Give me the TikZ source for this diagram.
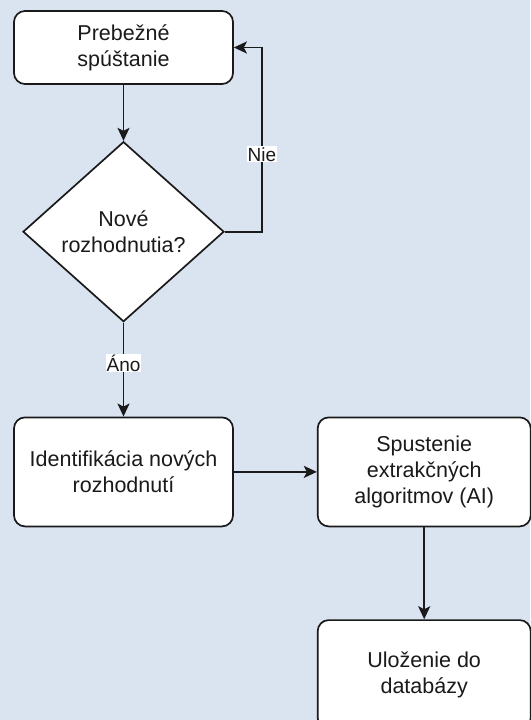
\documentclass[tikz,border=0pt]{standalone}
\usepackage{fontspec}
\setmainfont{Liberation Sans}
\usepackage{tikz}
\usetikzlibrary{positioning, arrows.meta, shapes.geometric}
\definecolor{pozadie}{RGB}{218, 227, 240}
\definecolor{ciara}{RGB}{26, 26, 26}
\tikzset{
    krok/.style={draw=ciara, rectangle, rounded corners=11pt, fill=white, line width=1.7pt, text=ciara, align=center, minimum width=219pt, minimum height=109pt, inner sep=2pt, font=\fontsize{21.5}{26}\selectfont},
    rozh/.style={draw=ciara, diamond, fill=white, line width=1.7pt, text=ciara, align=center, minimum width=201pt, minimum height=180pt, aspect=1.12, inner sep=0pt, font=\fontsize{21.5}{26}\selectfont},
    conn/.style={-{Stealth[length=13pt, width=12pt, inset=3pt]}, ciara, line width=1.7pt},
    lbl/.style={fill=white, inner sep=1pt, text=ciara, font=\fontsize{19}{22}\selectfont},
}

\begin{document}
\begin{tikzpicture}[x=1pt, y=1pt]
        \useasboundingbox (0,0) rectangle (530,-720);
        \fill[pozadie] (0,0) rectangle (530,-720);
        \node[krok, minimum height=73pt] (start) at (123.5,-47.5) {Prebežné\\spúštanie};
        \node[rozh, below=56pt of start] (dec) {Nové\\rozhodnutia?};
        \node[krok, below=94pt of dec] (ident) {Identifikácia nových\\rozhodnutí};
        \node[krok, right=83pt of ident, minimum width=213pt] (spust) {Spustenie\\extrakčných\\algoritmov (AI)};
        \node[krok, below=92pt of spust, minimum width=213pt] (ulozenie) {Uloženie do\\databázy};
        \coordinate[right=37pt of dec.east] (ohyb);

        \draw[conn] (start) -- (dec);
        \draw[conn] (dec.east) -- (ohyb) |- node[lbl, pos=0.21] {Nie} (start.east);
        \draw[conn] (dec) -- node[lbl, pos=0.43] {Áno} (ident);
        \draw[conn] (ident) -- (spust);
        \draw[conn] (spust) -- (ulozenie);
    \end{tikzpicture}
\end{document}
